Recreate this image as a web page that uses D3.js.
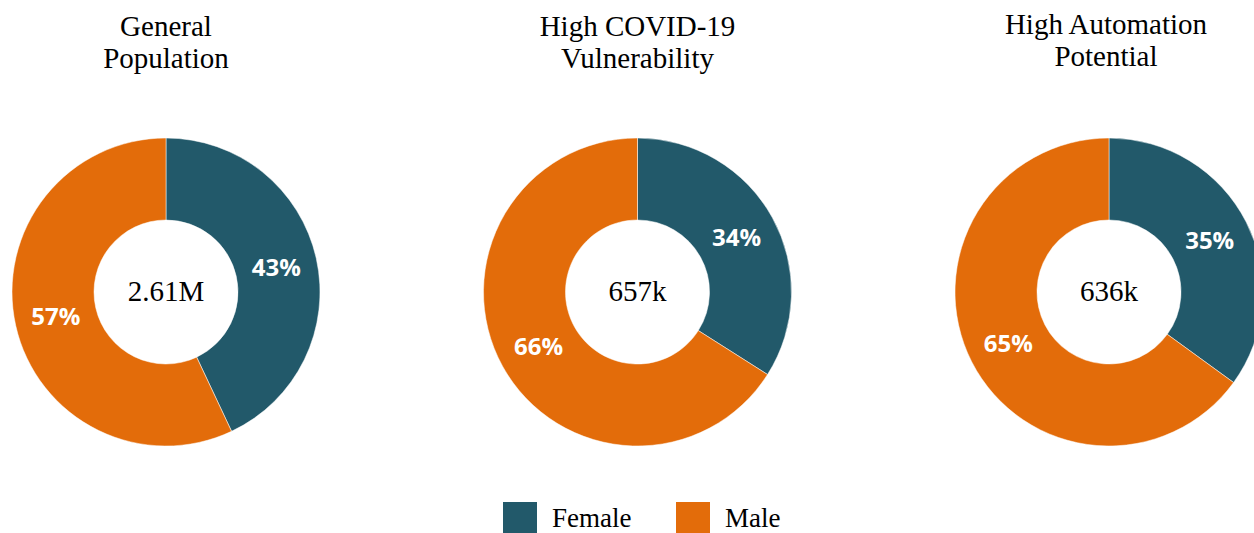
<!DOCTYPE html>
<html>
<head>
<meta charset="utf-8">
<script src="https://cdn.jsdelivr.net/npm/d3@7"></script>
<style>
  body { margin: 0; background: #fff; }
  svg { display: block; }
</style>
</head>
<body>
<svg class="chart"></svg>
<script>
// data
var groups = [["General", "Population"], ["High COVID-19", "Vulnerability"], ["High Automation", "Potential"]];
var totals = ["2.61M", "657k", "636k"];
var female = [43, 34, 35];
var male = [57, 66, 65];
var sexes = ["Female", "Male"];
var colors = ["#22596a", "#e36c0a"];

var width = 1254, height = 533;
var svg = d3.select(".chart")
    .attr("width", width)
    .attr("height", height);

// donut centres spread across the page
var x = d3.scalePoint()
    .domain(d3.range(groups.length))
    .range([166, 1109]);
var cy = 292;
var outerR = 154, innerR = 72;

var color = d3.scaleOrdinal().domain(sexes).range(colors);
var pie = d3.pie().sort(null).value(function(d) { return d.v; });
var arc = d3.arc().innerRadius(innerR).outerRadius(outerR);

groups.forEach(function(title, i) {
  var g = svg.append("g")
      .attr("transform", "translate(" + x(i) + "," + cy + ")");

  var slices = pie([{k: "Female", v: female[i]}, {k: "Male", v: male[i]}]);

  g.selectAll("path")
    .data(slices)
    .enter().append("path")
      .attr("d", arc)
      .attr("fill", function(d) { return color(d.data.k); })
      .attr("stroke", "#fff")
      .attr("stroke-width", 0.5);

  // percent labels in the middle of the ring
  g.selectAll("text.pct")
    .data(slices)
    .enter().append("text")
      .attr("class", "pct")
      .attr("transform", function(d) { return "translate(" + arc.centroid(d) + ")"; })
      .attr("dy", "0.36em")
      .attr("text-anchor", "middle")
      .attr("fill", "#fff")
      .attr("font-family", "'Open Sans', sans-serif")
      .attr("font-weight", 700)
      .attr("font-size", "24px")
      .text(function(d) { return d.data.v + "%"; });

  // total in the hole
  g.append("text")
    .attr("y", 9)
    .attr("text-anchor", "middle")
    .attr("font-family", "'Liberation Serif', 'Times New Roman', serif")
    .attr("font-size", "29px")
    .attr("fill", "#000")
    .text(totals[i]);

  // two-line title
  svg.append("text")
    .attr("x", x(i))
    .attr("y", 36)
    .attr("text-anchor", "middle")
    .attr("font-family", "'Liberation Serif', 'Times New Roman', serif")
    .attr("font-size", "29px")
    .attr("fill", "#000")
    .selectAll("tspan")
    .data(title)
    .enter().append("tspan")
      .attr("x", x(i) - (i == 2 ? 3 : 0))
      .attr("dy", function(d, j) { return j ? 32 : (i == 2 ? -2 : 0); })
      .text(function(d) { return d; });
});

// legend at the bottom
var legend = svg.append("g").attr("transform", "translate(503,502)");
var legendX = [0, 173];

var item = legend.selectAll("g")
  .data(sexes)
  .enter().append("g")
    .attr("transform", function(d, i) { return "translate(" + legendX[i] + ",0)"; });

item.append("rect")
    .attr("width", 34)
    .attr("height", 33)
    .attr("fill", function(d) { return color(d); });

item.append("text")
    .attr("x", 49)
    .attr("y", 25)
    .attr("font-family", "'Liberation Serif', 'Times New Roman', serif")
    .attr("font-size", "27px")
    .attr("fill", "#000")
    .text(function(d) { return d; });
</script>
</body>
</html>
